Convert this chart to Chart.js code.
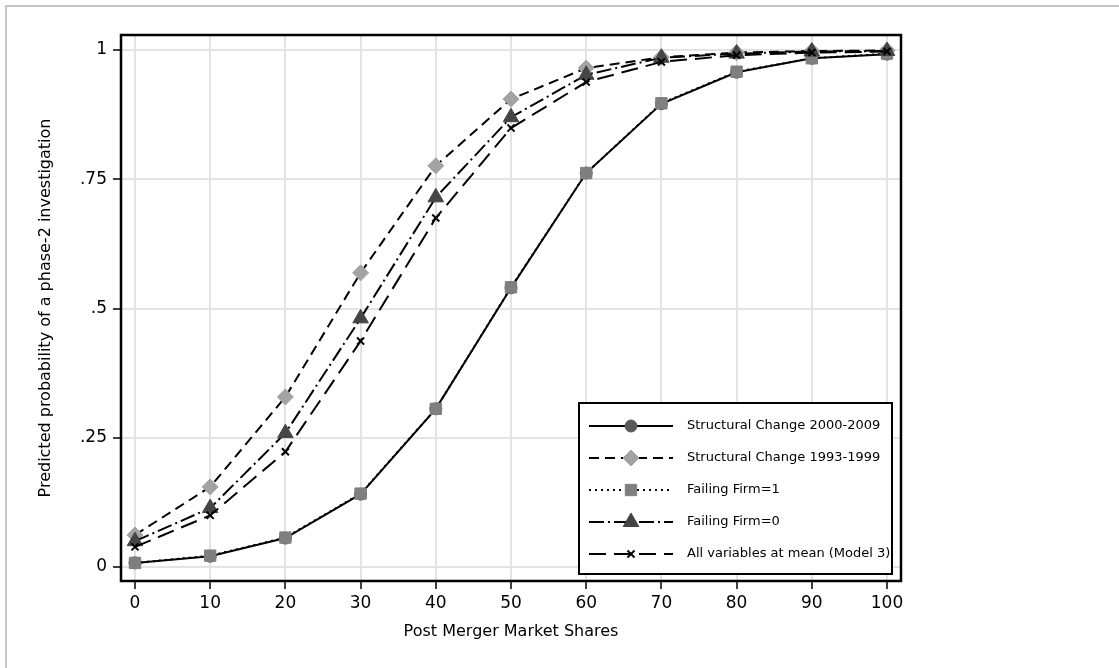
<!DOCTYPE html>
<html>
<head>
<meta charset="utf-8">
<script src="https://cdn.jsdelivr.net/npm/chart.js@4/dist/chart.umd.min.js"></script>
<style>
  html, body { margin: 0; padding: 0; background: #fff; }
  #wrap { position: absolute; left: 0; top: 0; width: 1119px; height: 668px; }
</style>
</head>
<body>
<div id="wrap"><canvas id="probChart" width="1119" height="668"></canvas></div>
<script>
// Data
const shares = [0, 10, 20, 30, 40, 50, 60, 70, 80, 90, 100];
const structural0009 = [0.008, 0.021, 0.056, 0.141, 0.306, 0.540, 0.762, 0.896, 0.957, 0.984, 0.992];
const structural9399 = [0.062, 0.155, 0.329, 0.569, 0.776, 0.905, 0.965, 0.986, 0.995, 0.998, 0.999];
const failingFirm1 = [0.008, 0.022, 0.057, 0.142, 0.306, 0.541, 0.762, 0.897, 0.958, 0.984, 0.993];
const failingFirm0 = [0.050, 0.114, 0.259, 0.481, 0.715, 0.870, 0.952, 0.985, 0.993, 0.997, 0.998];
const allMean = [0.039, 0.100, 0.223, 0.437, 0.675, 0.849, 0.938, 0.977, 0.990, 0.995, 0.997];

const seriesNames = [
    'Structural Change 2000-2009',
    'Structural Change 1993-1999',
    'Failing Firm=1',
    'Failing Firm=0',
    'All variables at mean (Model 3)'
];
const xTicks = [0, 10, 20, 30, 40, 50, 60, 70, 80, 90, 100];
const yTicks = [0, 0.25, 0.5, 0.75, 1];
const yTickLabels = ['0', '.25', '.5', '.75', '1'];

const FONT = "'DejaVu Sans', sans-serif";

function toPoints(values) {
    return shares.map((s, i) => ({ x: s, y: values[i] }));
}

function series(label, values, dash, style, radius, color, order) {
    return {
        label: label,
        data: toPoints(values),
        borderColor: '#000',
        borderWidth: 2,
        borderDash: dash,
        pointStyle: style,
        pointRadius: radius,
        pointBackgroundColor: color,
        pointBorderColor: style === 'crossRot' ? '#000' : color,
        pointBorderWidth: style === 'crossRot' ? 2 : 1,
        tension: 0,
        fill: false,
        clip: false,
        order: order
    };
}

// grey page border, plot frame and the hand-placed legend
const framePlugin = {
    id: 'frame',
    beforeDraw(chart) {
        const ctx = chart.ctx;
        ctx.save();
        ctx.fillStyle = '#c4c4c4';
        ctx.fillRect(5, 5, chart.width - 5, 2);
        ctx.fillRect(5, 5, 2, chart.height - 5);
        ctx.restore();
    },
    afterDatasetsDraw(chart) {
        const { ctx, chartArea } = chart;
        ctx.save();
        ctx.strokeStyle = '#000';
        ctx.lineWidth = 2.5;
        ctx.strokeRect(chartArea.left, chartArea.top,
            chartArea.right - chartArea.left, chartArea.bottom - chartArea.top);
        ctx.restore();
    },
    afterDraw(chart) {
        const ctx = chart.ctx;
        const box = { left: 579, top: 403, right: 892, bottom: 574 };
        ctx.save();
        ctx.fillStyle = '#fff';
        ctx.fillRect(box.left, box.top, box.right - box.left, box.bottom - box.top);
        ctx.strokeStyle = '#000';
        ctx.lineWidth = 2;
        ctx.strokeRect(box.left, box.top, box.right - box.left, box.bottom - box.top);

        chart.data.datasets.forEach((ds, i) => {
            const y = 426 + i * 32;
            ctx.save();
            ctx.strokeStyle = ds.borderColor;
            ctx.lineWidth = ds.borderWidth;
            ctx.setLineDash(ds.borderDash || []);
            ctx.beginPath();
            ctx.moveTo(589, y);
            ctx.lineTo(673, y);
            ctx.stroke();
            ctx.setLineDash([]);
            ctx.fillStyle = ds.pointBackgroundColor;
            ctx.strokeStyle = ds.pointBorderColor;
            ctx.lineWidth = ds.pointBorderWidth;
            Chart.helpers.drawPoint(ctx, {
                pointStyle: ds.pointStyle,
                radius: ds.pointRadius,
                rotation: 0,
                borderWidth: ds.pointBorderWidth
            }, 631, y);
            ctx.restore();

            ctx.fillStyle = '#000';
            ctx.font = '13px ' + FONT;
            ctx.textAlign = 'left';
            ctx.textBaseline = 'middle';
            ctx.fillText(ds.label, 687, y);
        });
        ctx.restore();
    }
};

const ctx = document.getElementById('probChart').getContext('2d');
new Chart(ctx, {
    type: 'line',
    data: {
        datasets: [
            series(seriesNames[0], structural0009, [], 'circle', 6, '#595959', 5),
            series(seriesNames[1], structural9399, [10, 6], 'rectRot', 8, '#a3a3a3', 4),
            series(seriesNames[2], failingFirm1, [2, 4], 'rect', 8, '#7f7f7f', 3),
            series(seriesNames[3], failingFirm0, [15, 4, 2, 4], 'triangle', 9, '#454545', 2),
            series(seriesNames[4], allMean, [17, 8], 'crossRot', 5, '#000', 1)
        ]
    },
    options: {
        responsive: false,
        animation: false,
        events: [],
        layout: {
            padding: { left: 0, top: 35, right: 218, bottom: 0 }
        },
        plugins: {
            legend: { display: false },
            tooltip: { enabled: false }
        },
        scales: {
            x: {
                type: 'linear',
                min: -1.86,
                max: 101.86,
                afterBuildTicks: scale => { scale.ticks = xTicks.map(v => ({ value: v })); },
                afterFit: scale => { scale.height = 87; },
                border: { display: false },
                grid: {
                    color: '#e3e3e3',
                    lineWidth: 2,
                    tickColor: '#000',
                    tickWidth: 1.5,
                    tickLength: 8
                },
                ticks: {
                    color: '#000',
                    padding: 4,
                    maxRotation: 0,
                    autoSkip: false,
                    font: { family: FONT, size: 17 },
                    callback: value => String(value)
                },
                title: {
                    display: true,
                    text: 'Post Merger Market Shares',
                    color: '#000',
                    font: { family: FONT, size: 16 },
                    padding: { top: 0, bottom: 27 }
                }
            },
            y: {
                type: 'linear',
                min: -0.027,
                max: 1.029,
                afterBuildTicks: scale => { scale.ticks = yTicks.map(v => ({ value: v })); },
                afterFit: scale => { scale.width = 121; },
                border: { display: false },
                grid: {
                    color: '#e3e3e3',
                    lineWidth: 2,
                    tickColor: '#000',
                    tickWidth: 1.5,
                    tickLength: 8
                },
                ticks: {
                    color: '#000',
                    padding: 6,
                    autoSkip: false,
                    font: { family: FONT, size: 17 },
                    callback: (value, index) => yTickLabels[index]
                },
                title: {
                    display: true,
                    text: 'Predicted probability of a phase-2 investigation',
                    color: '#000',
                    font: { family: FONT, size: 16 },
                    padding: { top: 36, bottom: 0 }
                }
            }
        }
    },
    plugins: [framePlugin]
});
</script>
</body>
</html>
